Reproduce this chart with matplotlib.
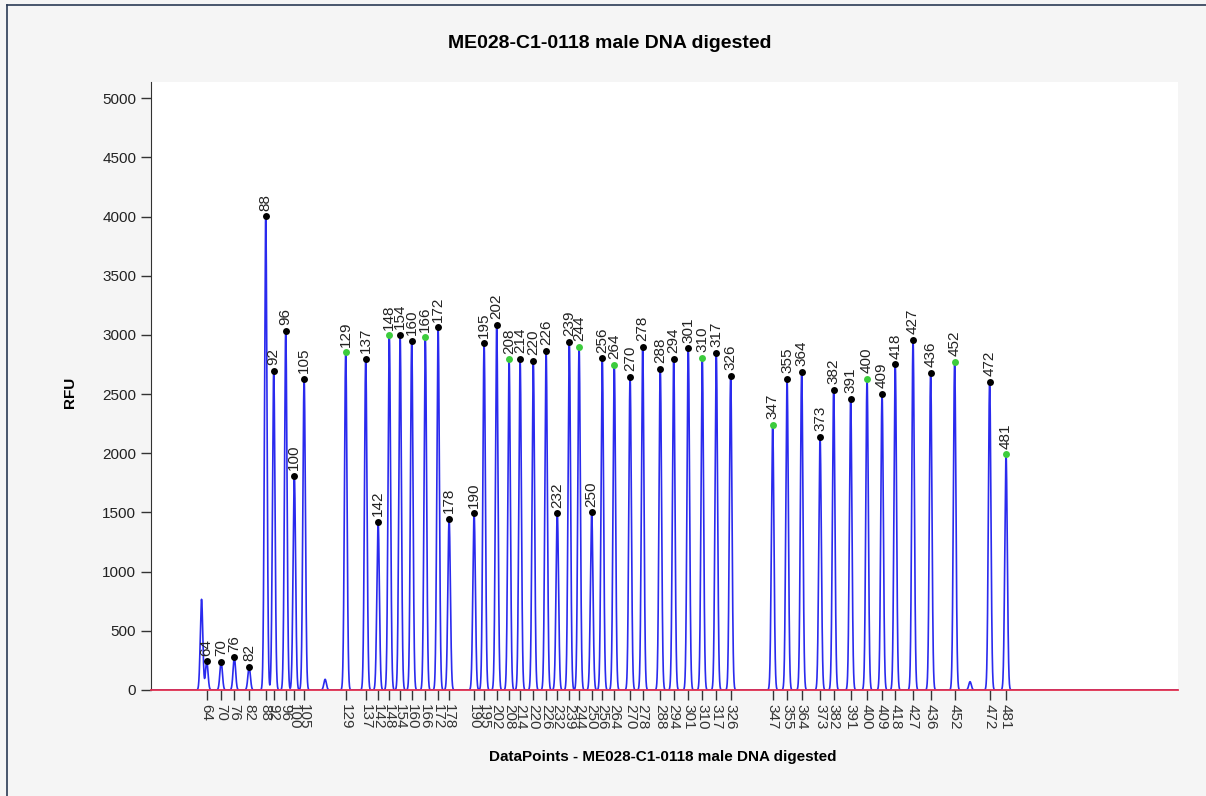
import numpy as np
import matplotlib
matplotlib.use("Agg")
import matplotlib.pyplot as plt
from matplotlib.lines import Line2D

# ---- data ----
sizes = [64, 70, 76, 82, 88, 92, 96, 100, 105, 129, 137, 142, 148, 154, 160, 166, 172, 178,
         190, 195, 202, 208, 214, 220, 226, 232, 239, 244, 250, 256, 264, 270, 278, 288, 294,
         301, 310, 317, 326, 347, 355, 364, 373, 382, 391, 400, 409, 418, 427, 436, 452, 472, 481]
positions = [280, 352, 418, 492, 575, 615, 675, 718, 767, 975, 1075, 1137, 1193, 1247, 1305,
             1373, 1437, 1492, 1617, 1667, 1730, 1792, 1847, 1913, 1977, 2033, 2093, 2142, 2205,
             2258, 2318, 2397, 2460, 2548, 2615, 2688, 2758, 2828, 2900, 3110, 3182, 3255, 3347,
             3415, 3500, 3582, 3657, 3723, 3812, 3900, 4020, 4195, 4277]
heights = [242, 239, 276, 194, 4005, 2696, 3036, 1811, 2631, 2853, 2800, 1420, 2997, 3003, 2949,
           2980, 3065, 1445, 1493, 2930, 3084, 2794, 2797, 2780, 2867, 1493, 2944, 2901, 1502,
           2803, 2746, 2647, 2898, 2713, 2797, 2887, 2808, 2848, 2653, 2242, 2628, 2687, 2138,
           2535, 2459, 2628, 2501, 2752, 2958, 2679, 2772, 2603, 1992]
green_sizes = [129, 148, 166, 208, 244, 264, 310, 347, 400, 452, 481]
# unlabeled peaks (primer peak and small artefacts)
extra_positions = [254, 872, 4097]
extra_heights = [766, 90, 70]

title = "ME028-C1-0118 male DNA digested"
xlabel = "DataPoints - ME028-C1-0118 male DNA digested"
ylabel = "RFU"
yticks = [0, 500, 1000, 1500, 2000, 2500, 3000, 3500, 4000, 4500, 5000]

# ---- figure ----
plt.rcParams['font.family'] = ['Liberation Sans', 'DejaVu Sans']
fig = plt.figure(figsize=(12.06, 7.96), dpi=100, facecolor='#f5f5f5')
ax = fig.add_axes([0.125, 0.1332, 0.8518, 0.7638])
ax.set_facecolor('white')

x = np.arange(0, 5137, 0.5)
sigma = 6.3
y = np.zeros_like(x)
for p, h in zip(list(positions) + extra_positions, list(heights) + extra_heights):
    y += h * np.exp(-(x - p) ** 2 / (2 * sigma ** 2))
ax.plot(x, y, color='#2a2aee', lw=1.2, zorder=2)

for s, p, h in zip(sizes, positions, heights):
    c = '#3ccc3c' if s in green_sizes else 'black'
    ax.plot(p, h, 'o', color=c, ms=5, zorder=4, mec='none')
    ax.annotate(str(s), (p, h), xytext=(0, 4), textcoords='offset points',
                rotation=90, ha='center', va='bottom', fontsize=11, color='#222222')

ax.set_xlim(0, 5137)
ax.set_ylim(0, 5138)
ax.set_yticks(yticks)
ax.set_yticklabels([str(v) for v in yticks], fontsize=11, color='#222222')
ax.set_xticks(positions)
ax.set_xticklabels([str(s) for s in sizes], rotation=-90, fontsize=11, color='#333333')
ax.tick_params(axis='both', length=7, width=1, color='#333333')
ax.tick_params(axis='x', pad=3)

for sp in ['top', 'right']:
    ax.spines[sp].set_visible(False)
ax.spines['left'].set_color('#333333')
ax.spines['bottom'].set_color('#e0304e')
ax.spines['bottom'].set_linewidth(1.3)
ax.spines['bottom'].set_zorder(3)

fig.text(0.5055, 1 - 43 / 796, title, ha='center', va='center', fontsize=14, fontweight='bold')
fig.text(663 / 1206, 1 - 757 / 796, xlabel, ha='center', va='center', fontsize=11, fontweight='bold')
fig.text(70 / 1206, 1 - 392 / 796, ylabel, ha='center', va='center', rotation=90,
         fontsize=11, fontweight='bold')

# outer border lines
fig.add_artist(Line2D([7 / 1206, 1.0], [1 - 5 / 796, 1 - 5 / 796], transform=fig.transFigure,
                      color='#2b3a55', lw=1.2))
fig.add_artist(Line2D([7 / 1206, 7 / 1206], [0, 1 - 5 / 796], transform=fig.transFigure,
                      color='#2b3a55', lw=1.2))

fig.savefig('out.png', dpi=100, facecolor=fig.get_facecolor())
